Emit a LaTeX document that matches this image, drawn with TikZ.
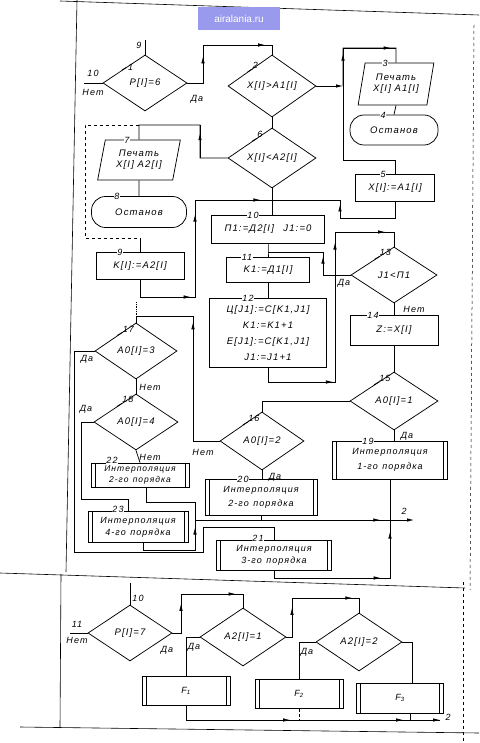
\documentclass[tikz,border=0pt]{standalone}
\usepackage{fontspec}
\setmainfont{Liberation Sans}
\newfontfamily\gost[LetterSpace=12]{Liberation Sans}
\usetikzlibrary{shapes.geometric,arrows.meta,decorations.markings,calc}
\begin{document}
\begin{tikzpicture}[x=1pt,y=-1pt,line width=0.75pt,
  font={\gost\itshape\fontsize{9.5}{11}\selectfont},
  >={Latex[length=7pt,width=3.5pt]},
  proc/.style={draw,rectangle,inner sep=1pt,align=center},
  subr/.style={proc,font={\gost\itshape\fontsize{9}{12}\selectfont},
    path picture={\draw ([xshift=4pt]path picture bounding box.north west) -- ([xshift=4pt]path picture bounding box.south west)
      ([xshift=-4pt]path picture bounding box.north east) -- ([xshift=-4pt]path picture bounding box.south east);}},
  dec/.style={draw,diamond,aspect=2,inner sep=0pt},
  io/.style={draw,trapezium,trapezium left angle=76,trapezium right angle=104,trapezium stretches=true,inner sep=1pt,align=center},
  term/.style={draw,rectangle,rounded corners=14pt,inner sep=1pt},
  num/.style={fill=white,inner sep=0.8pt,font={\gost\itshape\fontsize{9}{10}\selectfont}},
  lab/.style={inner sep=1pt,font={\gost\itshape\fontsize{9}{10}\selectfont}},
  am/.style={postaction={decorate},decoration={markings,mark=at position #1 with {\arrow{Latex[length=7pt,width=3.5pt]}}}}
]
\useasboundingbox (0,0) rectangle (479,743);
\fill[white] (0,0) rectangle (479,743);

% page frame
\draw[line width=0.6pt] (60,1) -- (479,15);
\draw[line width=0.6pt] (77,0) -- (66,572);
\draw[line width=0.6pt] (61,574) -- (60,728);
\draw[line width=0.6pt] (0,573) -- (465,588);
\draw[line width=0.5pt,dashed] (474,25) -- (470,590);
\draw[line width=0.5pt,dashed] (463,582) -- (463,743);
\draw[line width=0.6pt] (20,727) -- (479,733);

% watermark
\fill[fill={rgb,255:red,153;green,153;blue,238}] (198,7) rectangle (280,30);
\node[text=white,font={\fontsize{10}{12}\selectfont}] (wm) at (239,18.5) {airalania.ru};

% ---------- nodes (upper part) ----------
\node[dec,minimum width=84pt,minimum height=56pt] (d1) at (145,83) {P[I]=6};
\node[dec,minimum width=88pt,minimum height=62pt] (d2) at (272,86) {X[I]>A1[I]};
\node[dec,minimum width=88pt,minimum height=60pt] (d6) at (272,158) {X[I]<A2[I]};
\node[io,minimum width=76pt,minimum height=42pt] (B3) at (396,84) {Печать\\X[I] A1[I]};
\node[term,minimum width=88pt,minimum height=30pt] (B4) at (394,130) {Останов};
\node[proc,minimum width=79pt,minimum height=27pt] (B5) at (395,188) {X[I]:=A1[I]};
\node[io,minimum width=83pt,minimum height=40pt] (B7) at (139,160) {Печать\\X[I] A2[I]};
\node[term,minimum width=95pt,minimum height=31pt] (B8) at (139,212) {Останов};
\node[proc,minimum width=88pt,minimum height=27pt] (B9) at (140,266) {K[I]:=A2[I]};
\node[proc,minimum width=113pt,minimum height=28pt] (B10) at (268,229) {П1:=Д2[I]\quad J1:=0};
\node[proc,minimum width=83pt,minimum height=25pt] (B11) at (268,270) {K1:=Д1[I]};
\node[proc,minimum width=117pt,minimum height=69pt,font={\gost\itshape\fontsize{9.5}{16}\selectfont}] (B12) at (268,333)
  {Ц[J1]:=C[K1,J1]\\K1:=K1+1\\E[J1]:=C[K1,J1]\\J1:=J1+1};
\node[dec,minimum width=86pt,minimum height=56pt] (d13) at (394,275) {J1<П1};
\node[proc,minimum width=88pt,minimum height=30pt] (B14) at (394,330) {Z:=X[I]};
\node[dec,minimum width=88pt,minimum height=58pt] (d15) at (394,401) {A0[I]=1};
\node[dec,minimum width=84pt,minimum height=58pt] (d16) at (262,441) {A0[I]=2};
\node[dec,minimum width=82pt,minimum height=56pt] (d17) at (136,351) {A0[I]=3};
\node[dec,minimum width=84pt,minimum height=56pt] (d18) at (136,422) {A0[I]=4};
\node[subr,minimum width=115pt,minimum height=38pt,font={\gost\itshape\fontsize{9}{15}\selectfont}] (B19) at (390,460) {Интерполяция\\1-го\enspace порядка};
\node[subr,minimum width=112pt,minimum height=36pt,font={\gost\itshape\fontsize{9}{14}\selectfont}] (B20) at (261,497) {Интерполяция\\2-го\enspace порядка};
\node[subr,minimum width=115pt,minimum height=30pt] (B21) at (274,555) {Интерполяция\\3-го\enspace порядка};
\node[subr,minimum width=98pt,minimum height=24pt,font={\gost\itshape\fontsize{8.5}{10.5}\selectfont}] (B22) at (140,475) {Интерполяция\\2-го\enspace порядка};
\node[subr,minimum width=100pt,minimum height=31pt] (B23) at (138,527) {Интерполяция\\4-го\enspace порядка};

% numbers on boxes
\node[num] at (385,63) {3};
\node[num] at (383,115) {4};
\node[num] at (383,174.5) {5};
\node[num] at (127,140) {7};
\node[num] at (117,196.5) {8};
\node[num] at (120,252.5) {9};
\node[num] at (253,215) {10};
\node[num] at (247,257.5) {11};
\node[num] at (248,298.5) {12};
\node[num] at (373,315) {14};
\node[num] at (368,441) {19};
\node[num] at (243,479) {20};
\node[num] at (258,538) {21};
\node[num] at (112,460) {22};
\node[num] at (118,509) {23};

% numbers on decisions (with leaders)
\draw ($(d1.north)!0.55!(d1.west)$) -- ++(5,-3) node[lab,anchor=west] {1};
\draw ($(d2.north)!0.55!(d2.west)$) -- ++(5,-3) node[lab,anchor=south west,inner sep=0pt] {2};
\draw ($(d6.north)!0.45!(d6.west)$) -- ++(5,-3) node[lab,anchor=south west,inner sep=0pt] {6};
\draw ($(d13.north)!0.45!(d13.west)$) -- ++(5,-3) node[lab,anchor=south west,inner sep=0pt] {13};
\draw ($(d15.north)!0.45!(d15.west)$) -- ++(5,-3) node[lab,anchor=south west,inner sep=0pt] {15};
\draw ($(d16.north)!0.45!(d16.west)$) -- ++(5,-3) node[lab,anchor=south west,inner sep=0pt] {16};
\draw ($(d17.north)!0.45!(d17.west)$) -- ++(5,-3) node[lab,anchor=south west,inner sep=0pt] {17};
\draw ($(d18.north)!0.45!(d18.west)$) -- ++(5,-3) node[lab,anchor=south west,inner sep=0pt] {18};

% ---------- connectors (upper part) ----------
\coordinate (t9) at (145,40);
\draw (t9) -- (d1.north);
\node[lab] at (139,45) {9};
\coordinate (l10) at (84,83);
\draw (d1.west) -- (l10);
\node[lab] at (93,73) {10};
\node[lab] at (93,92) {Нет};

\coordinate (a1) at (203,83); \coordinate (a2) at (203,45); \coordinate (a3) at (272,45);
\draw (d1.east) -- (a1) -- (a2) -- (a3) -- (d2.north);
\draw[am=0.7] (a1) -- (a2);
\draw[am=0.9] (a2) -- (a3);
\node[lab] at (197,99) {Да};

\coordinate (b1) at (343,86); \coordinate (b2) at (343,48); \coordinate (b3) at (396,48);
\draw[->] (d2.east) -- (b1);
\draw (b1) -- (b2) -- (b3) -- (B3.north);
\draw[am=0.85] (b1) -- (b2);
\draw[am=0.9] (b2) -- (b3);
\coordinate (b4) at (343,160); \coordinate (b5) at (395,160);
\draw (b1) -- (b4) -- (b5) -- (B5.north);
\draw (B3.south) -- (B4.north);

\draw (d2.south) -- (d6.north);
\coordinate (c4) at (272,200);
\draw (d6.south) -- (d6.south |- B10.north);

\coordinate (c1) at (395,218); \coordinate (c2) at (340,218); \coordinate (c3) at (340,200);
\draw (B5.south) -- (c1) -- (c2) -- (c3) -- (c4);
\draw[am=0.75] (c2) -- (c3);

\coordinate (e1) at (200,158); \coordinate (e2) at (200,125); \coordinate (e3) at (139,125);
\draw (d6.west) -- (e1) -- (e2) -- (e3) -- (B7.north);
\draw[am=0.75] (e1) -- (e2);
\coordinate (e4) at (85,125); \coordinate (e5) at (85,238); \coordinate (e6) at (140,238);
\draw[dashed] (e3) -- (e4) -- (e5) -- (e6);
\draw (e6) -- (B9.north);
\draw (B7.south) -- (B8.north);

\coordinate (f1) at (140,297); \coordinate (f2) at (195,297); \coordinate (f3) at (195,200);
\draw (B9.south) -- (f1) -- (f2) -- (f3) -- (c4);
\draw[am=0.92] (f1) -- (f2);
\draw[am=0.85] (f2) -- (f3);
\draw[am=0.85] (f3) -- (c4);

\coordinate (g0) at (268,252);
\draw (B10.south) -- (g0) -- (B11.north);
\coordinate (g1) at (323,275); \coordinate (g2) at (323,252);
\draw (d13.west) -- (g1) -- (g2) -- (g0);
\draw[am=0.8] (g1) -- (g2);
\node[lab] at (344,283) {Да};
\draw (B11.south) -- (B12.north);

\coordinate (h1) at (268,382); \coordinate (h2) at (335,382); \coordinate (h3) at (335,232); \coordinate (h4) at (394,232);
\draw (B12.south) -- (h1) -- (h2) -- (h3) -- (h4) -- (d13.north);
\draw[am=0.97] (h1) -- (h2);
\draw[am=0.93] (h2) -- (h3);
\draw[am=0.85] (h3) -- (h4);

\draw (d13.south) -- (B14.north);
\node[lab] at (414,309) {Нет};
\draw (B14.south) -- (d15.north);

\coordinate (i1) at (262,401);
\draw (d15.west) -- (i1) -- (d16.north);
\draw (d15.south) -- (d15.south |- B19.north);
\node[lab] at (407,436) {Да};
\draw (d16.south) -- (d16.south |- B20.north);
\node[lab] at (275,477) {Да};

\coordinate (k1) at (193,441); \coordinate (k2) at (193,316); \coordinate (k3) at (136,316); \coordinate (k4) at (136,302);
\draw (d16.west) -- (k1) -- (k2) -- (k3) -- (d17.north);
\draw[am=0.95] (k1) -- (k2);
\draw[densely dotted] (k4) -- (k3);
\node[lab] at (203,452) {Нет};

\draw (d17.south) -- (d18.north);
\node[lab] at (150,387) {Нет};
\node[lab] at (87,359) {Да};
\coordinate (m1) at (74,351); \coordinate (m2) at (74,552); \coordinate (m3) at (203,552);
\coordinate (m4) at (203,527); \coordinate (m5) at (274,527);
\draw (d17.west) -- (m1) -- (m2) -- (m3) -- (m4) -- (m5) -- (B21.north);

\node[lab] at (86,409) {Да};
\coordinate (n1) at (81,422); \coordinate (n2) at (81,499); \coordinate (n3) at (128,499);
\draw (d18.west) -- (n1) -- (n2) -- (n3) -- (n3 |- B23.north);
\draw (d18.south) -- (B22.north);
\node[lab] at (150,457) {Нет};

\coordinate (p1) at (146,502); \coordinate (p2) at (195,502); \coordinate (p3) at (195,520);
\draw ([xshift=6pt]B22.south) -- (p1) -- (p2) -- (p3);
\coordinate (q1) at (143,550); \coordinate (q2) at (195,550);
\draw ([xshift=5pt]B23.south) -- (q1) -- (q2) -- (p3);
\draw[am=0.75] (q2) -- (p3);

\coordinate (r1) at (390,520); \coordinate (r2) at (414,520);
\draw (p3) -- (r1);
\draw[am=0.95] (p3) -- (r1);
\draw[->] (r1) -- (r2);
\node[lab] at (404,511) {2};
\draw (B20.south) -- (B20.south |- p3);
\draw (B19.south) -- (r1);
\coordinate (s1) at (274,578); \coordinate (s2) at (390,578);
\draw (B21.south) -- (s1) -- (s2) -- (r1);
\draw[am=0.92] (s1) -- (s2);
\draw[am=0.8] (s2) -- (r1);

% ---------- lower part ----------
\node[dec,minimum width=84pt,minimum height=56pt] (d7) at (130,633) {P[I]=7};
\node[dec,minimum width=86pt,minimum height=58pt] (da1) at (243,637) {A2[I]=1};
\node[dec,minimum width=86pt,minimum height=58pt] (da2) at (359,642) {A2[I]=2};
\node[subr,minimum width=88pt,minimum height=29pt] (F1) at (186,691) {F\textsubscript{1}};
\node[subr,minimum width=88pt,minimum height=29pt] (F2) at (299,694) {F\textsubscript{2}};
\node[subr,minimum width=87pt,minimum height=30pt] (F3) at (400,698) {F\textsubscript{3}};

\coordinate (u0) at (130,583);
\draw (u0) -- (d7.north);
\node[lab] at (138,598) {10};
\coordinate (u1) at (70,633);
\draw (d7.west) -- (u1);
\node[lab] at (77,624) {11};
\node[lab] at (77,640) {Нет};
\node[lab] at (167,650) {Да};

\coordinate (v1) at (181,633); \coordinate (v2) at (181,594); \coordinate (v3) at (243,594);
\draw (d7.east) -- (v1) -- (v2) -- (v3) -- (da1.north);
\draw[am=0.75] (v1) -- (v2);
\draw[am=0.88] (v2) -- (v3);

\coordinate (w1) at (186,637);
\draw (da1.west) -- (w1) -- (F1.north);
\node[lab] at (194,647) {Да};

\coordinate (x1) at (292,637); \coordinate (x2) at (292,598); \coordinate (x3) at (359,598);
\draw (da1.east) -- (x1) -- (x2) -- (x3) -- (da2.north);
\draw[am=0.75] (x1) -- (x2);
\draw[am=0.9] (x2) -- (x3);

\coordinate (y1) at (299,642);
\draw (da2.west) -- (y1) -- (F2.north);
\node[lab] at (307,652) {Да};
\coordinate (z1) at (412,642);
\draw (da2.east) -- (z1) -- (z1 |- F3.north);

\coordinate (o1) at (186,720); \coordinate (o2) at (440,720);
\draw (F1.south) -- (o1);
\draw[->] (o1) -- (o2);
\draw[am=0.41] (o1) -- (o2);
\draw[am=0.855] (o1) -- (o2);
\draw[densely dashed] (F2.south) -- (F2.south |- o1);
\draw ([xshift=10pt]F3.south) -- ([xshift=10pt]F3.south |- o1);
\node[lab] at (448,717) {2};
\end{tikzpicture}
\end{document}
